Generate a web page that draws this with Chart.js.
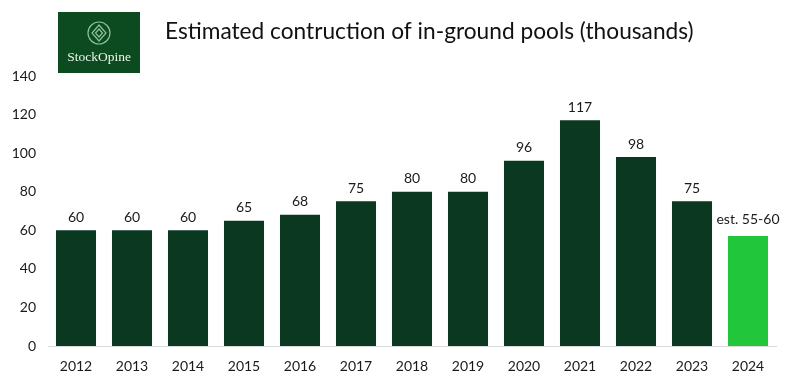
<!DOCTYPE html>
<html><head><meta charset="utf-8">
<script src="https://cdn.jsdelivr.net/npm/chart.js@4/dist/chart.umd.min.js"></script>
<style>html,body{margin:0;padding:0;background:#fff}#wrap{width:786px;height:382px}</style>
</head><body><div id="wrap"><canvas id="c" width="786" height="382"></canvas></div>
<script>
const years = ['2012','2013','2014','2015','2016','2017','2018','2019','2020','2021','2022','2023','2024'];
const pools = [60,60,60,65,68,75,80,80,96,117,98,75,57];
const barLabels = ['60','60','60','65','68','75','80','80','96','117','98','75','est. 55-60'];
const yTicks = [0,20,40,60,80,100,120,140];
const titleText = 'Estimated contruction of in-ground pools (thousands)';
const FONT = 'Lato, "Open Sans", sans-serif';

const colors = pools.map((v,i)=> i===pools.length-1 ? '#22c63a' : '#0a3820');

const deco = {
  id:'deco',
  afterDraw(chart){
    const ctx = chart.ctx;
    ctx.save();
    // logo
    ctx.fillStyle = '#0c4a20';
    ctx.fillRect(58,12,82,61);
    ctx.strokeStyle = '#8cc296'; ctx.lineWidth = 1.2;
    ctx.beginPath(); ctx.arc(99,33,11,0,Math.PI*2); ctx.stroke();
    ctx.beginPath(); ctx.moveTo(99,25);ctx.lineTo(106,33);ctx.lineTo(99,41);ctx.lineTo(92,33);ctx.closePath(); ctx.stroke();
    ctx.beginPath(); ctx.moveTo(99,29);ctx.lineTo(102.5,33);ctx.lineTo(99,37);ctx.lineTo(95.5,33);ctx.closePath(); ctx.stroke();
    ctx.fillStyle = '#eef4ee';
    ctx.font = '13.5px "Liberation Serif", "DejaVu Serif", serif';
    ctx.textAlign='center'; ctx.textBaseline='middle';
    ctx.fillText('StockOpine',99,57);
    // title
    ctx.fillStyle = '#111';
    ctx.font = '22.7px ' + FONT;
    ctx.textAlign='left';
    ctx.fillText(titleText,165,32);
    // bar labels
    const meta = chart.getDatasetMeta(0);
    ctx.font = '14px ' + FONT;
    ctx.fillStyle = '#1a1a1a';
    ctx.textAlign='center'; ctx.textBaseline='bottom';
    meta.data.forEach((bar,i)=>{
      ctx.fillText(barLabels[i], bar.x, bar.y - (i===pools.length-1 ? 10 : 6));
    });
    ctx.restore();
  }
};

new Chart(document.getElementById('c'),{
  type:'bar',
  data:{labels:years,datasets:[{data:pools,backgroundColor:colors,categoryPercentage:1,barPercentage:0.715}]},
  options:{
    responsive:false,animation:false,
    layout:{padding:{top:76,right:10,left:0,bottom:0}},
    plugins:{legend:{display:false},tooltip:{enabled:false}},
    scales:{
      x:{grid:{display:false,drawTicks:false},border:{color:'#d9d9d9',width:1},
         ticks:{color:'#1a1a1a',font:{family:FONT,size:14},padding:12},
         afterFit(s){s.height=36;}},
      y:{min:0,max:140,grid:{display:false,drawTicks:false},border:{display:false},
         afterBuildTicks(s){s.ticks=yTicks.map(v=>({value:v}));},
         ticks:{color:'#1a1a1a',font:{family:FONT,size:14},padding:12},
         afterFit(s){s.width=48;}}
    }
  },
  plugins:[deco]
});
</script></body></html>
